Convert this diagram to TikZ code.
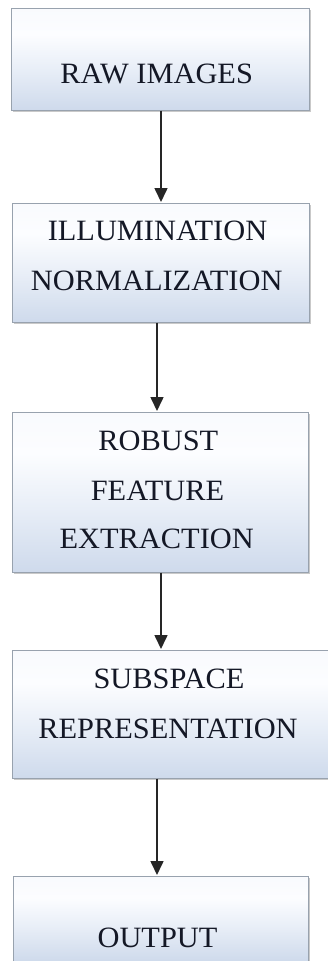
\documentclass[tikz,border=0pt]{standalone}
\usepackage{fontspec}
\setmainfont{Liberation Serif}
\usetikzlibrary{arrows.meta,shadows}
\definecolor{boxline}{HTML}{98A2AE}
\definecolor{txt}{HTML}{141826}
\pgfdeclareverticalshading{boxshade}{100bp}{%
  color(0bp)=(rgb,255:red,178;green,195;blue,222);
  color(20bp)=(rgb,255:red,200;green,213;blue,233);
  color(45bp)=(rgb,255:red,232;green,238;blue,247);
  color(62bp)=(rgb,255:red,252;green,253;blue,255);
  color(85bp)=(rgb,255:red,246;green,248;blue,252);
  color(100bp)=(rgb,255:red,232;green,236;blue,243)}
\tikzset{
  box/.style={rectangle, draw=boxline, line width=1pt, shading=boxshade,
    drop shadow={shadow xshift=1.5pt, shadow yshift=-2pt, opacity=0.35, fill=black!60}, inner sep=0pt},
  lbl/.style={anchor=base, inner sep=0pt, text=txt, font=\fontsize{29.5pt}{35pt}\selectfont},
  arr/.style={draw=black!85, line width=1.6pt, -{Triangle[length=14pt,width=13pt]}, shorten >=0.5pt}
}
\newcommand{\wide}[1]{\scalebox{1.03}[1]{#1}}
\begin{document}
\begin{tikzpicture}[x=1pt,y=-1pt]
\useasboundingbox[fill=white] (0,0) rectangle (328,961);
\node[box, minimum width=298pt, minimum height=102pt] (b1) at (160,59) {};
\node[box, minimum width=297pt, minimum height=119pt] (b2) at (160.5,262.5) {};
\node[box, minimum width=296pt, minimum height=160pt] (b3) at (160,492) {};
\node[box, minimum width=320pt, minimum height=128pt] (b4) at (172,714) {};
\node[box, minimum width=295pt, minimum height=85pt] (b5) at (160.5,918.5) {};
\node[lbl] (t1) at (156.7,83) {\wide{RAW IMAGES}};
\node[lbl] (t2a) at (157.5,240) {\wide{ILLUMINATION}};
\node[lbl] (t2b) at (156.7,290) {\wide{NORMALIZATION}};
\node[lbl] (t3a) at (158.3,450) {\wide{ROBUST}};
\node[lbl] (t3b) at (157.5,500) {\wide{FEATURE}};
\node[lbl] (t3c) at (156.7,548) {\wide{EXTRACTION}};
\node[lbl] (t4a) at (169,688) {\wide{SUBSPACE}};
\node[lbl] (t4b) at (168,738) {\wide{REPRESENTATION}};
\node[lbl] (t5) at (157.5,947) {\wide{OUTPUT}};
\draw[arr] ([xshift=1pt]b1.south) -- ([xshift=1pt]b1.south |- b2.north);
\draw[arr] ([xshift=-3.5pt]b2.south) -- ([xshift=-3.5pt]b2.south |- b3.north);
\draw[arr] ([xshift=1pt]b3.south) -- ([xshift=1pt]b3.south |- b4.north);
\draw[arr] ([xshift=-3.5pt]b5.north |- b4.south) -- ([xshift=-3.5pt]b5.north);
\end{tikzpicture}
\end{document}
